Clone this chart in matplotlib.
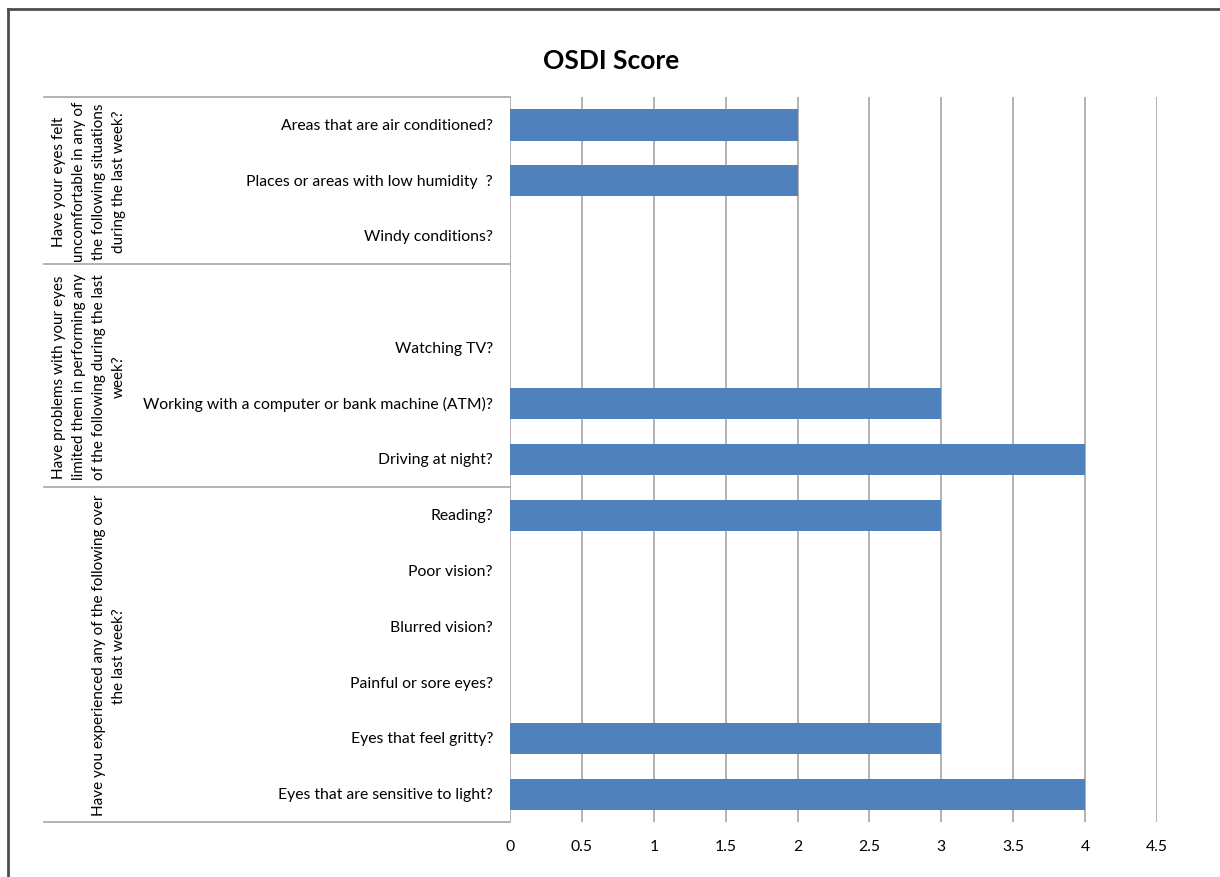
import matplotlib
matplotlib.use("Agg")
import matplotlib.pyplot as plt
from matplotlib.lines import Line2D
import matplotlib.transforms as mtransforms

# Data (bottom to top)
categories = [
    "Eyes that are sensitive to light?",
    "Eyes that feel gritty?",
    "Painful or sore eyes?",
    "Blurred vision?",
    "Poor vision?",
    "Reading?",
    "Driving at night?",
    "Working with a computer or bank machine (ATM)?",
    "Watching TV?",
    "",
    "Windy conditions?",
    "Places or areas with low humidity  ?",
    "Areas that are air conditioned?",
]
values = [4, 3, 0, 0, 0, 3, 4, 3, 0, 0, 0, 2, 2]

group_labels = [
    "Have you experienced any of the following over\nthe last week?",
    "Have problems with your eyes\nlimited them in performing any\nof the following during the last\nweek?",
    "Have your eyes felt\nuncomfortable in any of\nthe following situations\nduring the last week?",
]
group_sizes = [6, 4, 3]

x_ticks = [0, 0.5, 1, 1.5, 2, 2.5, 3, 3.5, 4, 4.5]
x_tick_labels = ["0", "0.5", "1", "1.5", "2", "2.5", "3", "3.5", "4", "4.5"]

plt.rcParams['font.family'] = ['Lato', 'DejaVu Sans']

W, H = 1220, 878
fig = plt.figure(figsize=(W / 100, H / 100), dpi=100)
ax = fig.add_axes([510 / W, 1 - 823 / H, (1157 - 510) / W, (823 - 98) / H])

grid_col = "#A6A6A6"
bar_col = "#4F81BD"
fs = 11.3

n = len(categories)
ypos = list(range(n))
ax.barh(ypos, values, height=0.56, color=bar_col, zorder=3)
ax.set_ylim(-0.5, n - 0.5)
ax.set_xlim(0, 4.5)

ax.set_xticks(x_ticks)
ax.set_xticklabels(x_tick_labels, fontsize=fs)
ax.tick_params(axis='x', length=0, pad=12)
ax.set_yticks([])
for s in ax.spines.values():
    s.set_visible(False)
for xv in x_ticks:
    ax.axvline(xv, color=grid_col, lw=1.2, zorder=1)

# category labels
tr = mtransforms.blended_transform_factory(fig.transFigure, ax.transData)
for i, c in enumerate(categories):
    ax.text(493 / W, i, c, transform=tr, ha='right', va='center', fontsize=fs)

# group separator lines and group labels
bounds = [-0.5]
for g in group_sizes:
    bounds.append(bounds[-1] + g)
for b in bounds:
    ax.add_line(Line2D([44 / W, 510 / W], [b, b], transform=tr, color=grid_col,
                       lw=1.2, clip_on=False))
for gi, gl in enumerate(group_labels):
    yc = (bounds[gi] + bounds[gi + 1]) / 2
    ax.text(126 / W, yc, gl, transform=tr, rotation=90, ha='right', va='center',
            multialignment='center', fontsize=11, linespacing=1.55)

# title
fig.text(611 / W, 1 - 61 / H, "OSDI Score", ha='center', va='center',
         fontsize=19, fontweight='bold')

# outer border (top and left)
fig.add_artist(Line2D([8 / W, 1.0], [1 - 10 / H, 1 - 10 / H], transform=fig.transFigure,
                      color="#4D4D4D", lw=2))
fig.add_artist(Line2D([8 / W, 8 / W], [0, 1 - 10 / H], transform=fig.transFigure,
                      color="#4D4D4D", lw=2))

fig.savefig("out.png", dpi=100)
